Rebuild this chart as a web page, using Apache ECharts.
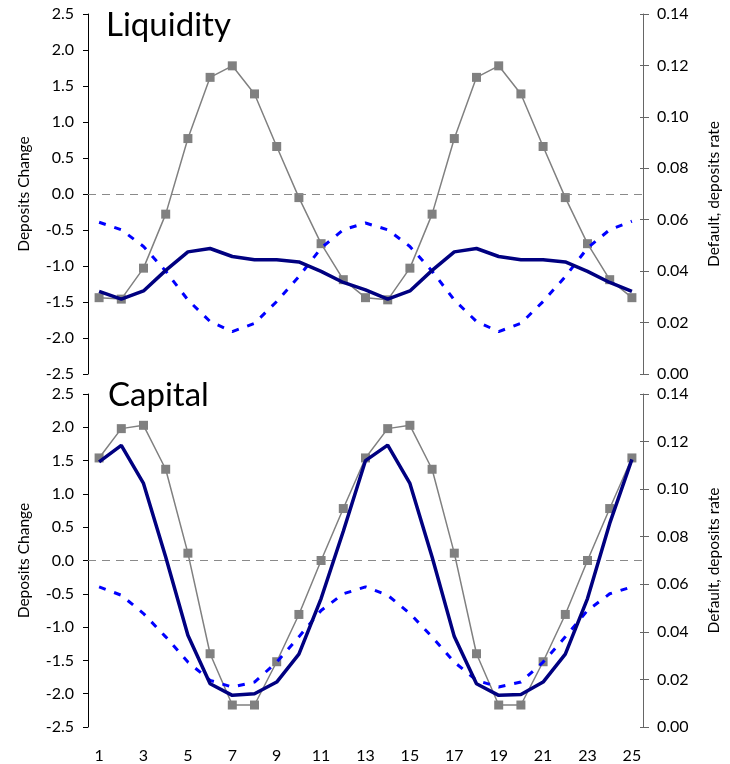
<!DOCTYPE html>
<html>
<head>
<meta charset="utf-8">
<script src="https://cdn.jsdelivr.net/npm/echarts@6/dist/echarts.min.js"></script>
<style>
  html, body { margin: 0; padding: 0; background: #fff; }
  #chart { width: 730px; height: 764px; }
</style>
</head>
<body>
<div id="chart"></div>
<script>
// Periods on the horizontal axis
const periods = ['1','2','3','4','5','6','7','8','9','10','11','12','13',
                 '14','15','16','17','18','19','20','21','22','23','24','25'];

// Liquidity panel
const liqDepositsChange = [-1.44, -1.46, -1.03, -0.28, 0.77, 1.62, 1.78, 1.39, 0.66, -0.05, -0.69, -1.19,
                           -1.44, -1.47, -1.03, -0.28, 0.77, 1.62, 1.78, 1.39, 0.66, -0.05, -0.69, -1.19, -1.44];
const liqDefault = [0.0321, 0.0291, 0.0323, 0.0403, 0.0475, 0.0488, 0.0457, 0.0444, 0.0444, 0.0436, 0.0399, 0.0356,
                    0.0327, 0.0291, 0.0323, 0.0403, 0.0475, 0.0488, 0.0457, 0.0444, 0.0444, 0.0436, 0.0399, 0.0356, 0.0321];
const liqDepositsRate = [0.0590, 0.0561, 0.0496, 0.0400, 0.0288, 0.0204, 0.0165, 0.0197, 0.0282, 0.0379, 0.0490, 0.0561,
                         0.0587, 0.0561, 0.0496, 0.0400, 0.0288, 0.0204, 0.0165, 0.0197, 0.0282, 0.0379, 0.0490, 0.0561, 0.0594];

// Capital panel
const capDepositsChange = [1.54, 1.98, 2.03, 1.37, 0.11, -1.40, -2.17, -2.17, -1.52, -0.81, 0.00, 0.78,
                           1.54, 1.98, 2.03, 1.37, 0.11, -1.40, -2.17, -2.17, -1.52, -0.81, 0.00, 0.78, 1.54];
const capDefault = [0.1115, 0.1184, 0.1024, 0.0715, 0.0386, 0.0182, 0.0133, 0.0140, 0.0189, 0.0306, 0.0540, 0.0823,
                    0.1120, 0.1185, 0.1024, 0.0715, 0.0380, 0.0182, 0.0133, 0.0137, 0.0189, 0.0306, 0.0540, 0.0856, 0.1125];
const capDepositsRate = [0.0589, 0.0554, 0.0477, 0.0379, 0.0273, 0.0196, 0.0168, 0.0189, 0.0273, 0.0379, 0.0490, 0.0560,
                         0.0589, 0.0554, 0.0477, 0.0379, 0.0273, 0.0196, 0.0168, 0.0189, 0.0273, 0.0379, 0.0490, 0.0560, 0.0589];

const panelTitles = ['Liquidity', 'Capital'];
const leftAxisName = 'Deposits Change';
const rightAxisName = 'Default, deposits rate';

const FONT = 'Lato';
const GRAY = '#808080';
const NAVY = '#000080';
const BLUE = '#0000FF';

function leftAxis(gridIndex) {
  return {
    type: 'value', gridIndex: gridIndex, position: 'left',
    min: -2.5, max: 2.5, interval: 0.5,
    name: leftAxisName, nameLocation: 'middle', nameGap: 56,
    nameTextStyle: { fontFamily: FONT, fontSize: 15.5, color: '#000' },
    axisLine: { show: true, lineStyle: { color: '#000', width: 1 } },
    axisTick: { show: true, length: 5, lineStyle: { color: '#000' } },
    axisLabel: { fontFamily: FONT, fontSize: 16, color: '#000', margin: 14,
                 formatter: v => v.toFixed(1) },
    splitLine: { show: false }
  };
}

function rightAxis(gridIndex) {
  return {
    type: 'value', gridIndex: gridIndex, position: 'right',
    min: 0, max: 0.14, interval: 0.02,
    name: rightAxisName, nameLocation: 'middle', nameGap: 63,
    nameTextStyle: { fontFamily: FONT, fontSize: 15.5, color: '#000' },
    axisLine: { show: true, lineStyle: { color: '#666', width: 1 } },
    axisTick: { show: true, length: 6, inside: false, lineStyle: { color: '#666' } },
    axisLabel: { fontFamily: FONT, fontSize: 16, color: '#000', margin: 14,
                 formatter: v => v.toFixed(2) },
    splitLine: { show: false }
  };
}

// Short inner stubs so the right-hand ticks cross the axis line
function rightInnerTicks(gridIndex) {
  return {
    type: 'value', gridIndex: gridIndex, position: 'right',
    min: 0, max: 0.14, interval: 0.02,
    axisLine: { show: false },
    axisTick: { show: true, length: 3, inside: true, lineStyle: { color: '#666' } },
    axisLabel: { show: false },
    splitLine: { show: false }
  };
}

function xAxis(gridIndex, showLabels) {
  return {
    type: 'category', gridIndex: gridIndex, data: periods, boundaryGap: true,
    axisLine: { show: false, onZero: false },
    axisTick: { show: false },
    axisLabel: { show: showLabels, interval: 1, fontFamily: FONT, fontSize: 16, color: '#000', margin: 21 },
    splitLine: { show: false }
  };
}

function panelSeries(xi, yl, yr, change, dflt, rate) {
  return [
    {
      type: 'line', xAxisIndex: xi, yAxisIndex: yl, data: change,
      symbol: 'rect', symbolSize: 9, showAllSymbol: true,
      itemStyle: { color: GRAY },
      lineStyle: { color: GRAY, width: 1.5 },
      z: 3,
      markLine: {
        silent: true, symbol: ['none', 'none'], label: { show: false },
        lineStyle: { color: '#8a8a8a', type: [8, 6], width: 1 },
        data: [{ yAxis: 0 }], animation: false
      }
    },
    {
      type: 'line', xAxisIndex: xi, yAxisIndex: yr, data: rate,
      symbol: 'none',
      lineStyle: { color: BLUE, width: 3, type: [7, 9] },
      z: 4
    },
    {
      type: 'line', xAxisIndex: xi, yAxisIndex: yr, data: dflt,
      symbol: 'none',
      lineStyle: { color: NAVY, width: 3.5 },
      z: 5
    }
  ];
}

const chart = echarts.init(document.getElementById('chart'), null, { renderer: 'canvas' });

chart.setOption({
  animation: false,
  backgroundColor: '#fff',
  title: [
    { text: panelTitles[0], left: 101, top: 4,
      textStyle: { fontFamily: FONT, fontSize: 33, fontWeight: 'normal', color: '#000' } },
    { text: panelTitles[1], left: 103, top: 374,
      textStyle: { fontFamily: FONT, fontSize: 33, fontWeight: 'normal', color: '#000' } }
  ],
  grid: [
    { left: 88, top: 14, width: 563, height: 360 },
    { left: 88, top: 394, width: 563, height: 333 }
  ],
  xAxis: [xAxis(0, false), xAxis(1, true)],
  yAxis: [leftAxis(0), rightAxis(0), leftAxis(1), rightAxis(1), rightInnerTicks(0), rightInnerTicks(1)],
  series: [].concat(
    panelSeries(0, 0, 1, liqDepositsChange, liqDefault, liqDepositsRate),
    panelSeries(1, 2, 3, capDepositsChange, capDefault, capDepositsRate)
  )
});
</script>
</body>
</html>
